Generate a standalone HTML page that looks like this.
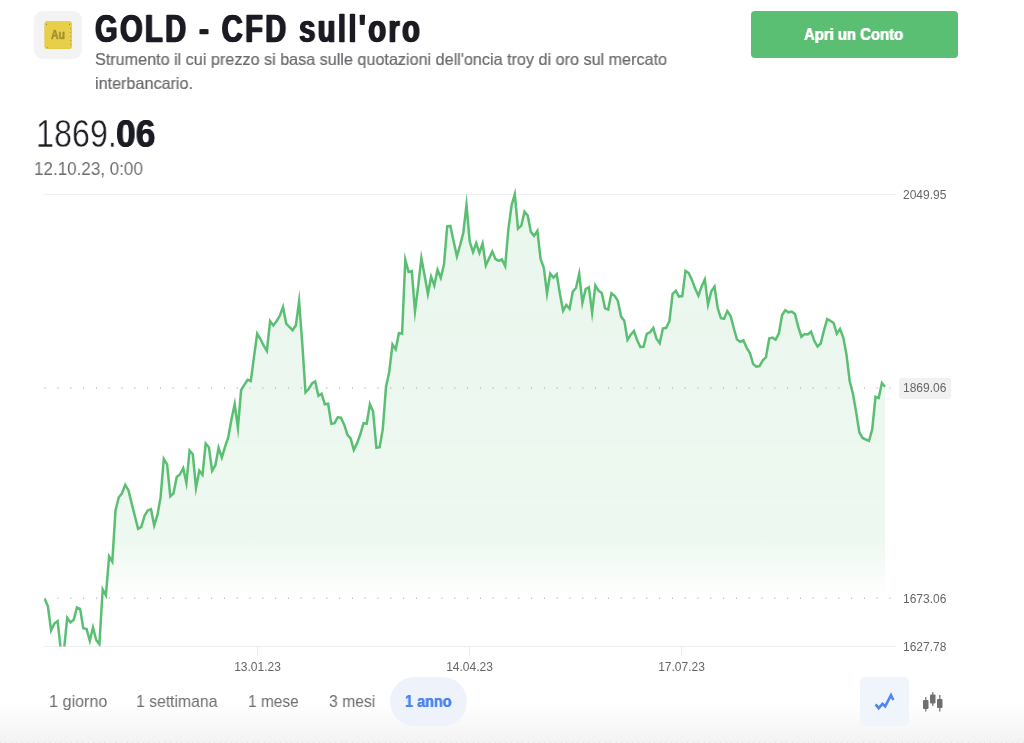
<!DOCTYPE html>
<html lang="it">
<head>
<meta charset="utf-8">
<title>GOLD - CFD sull'oro</title>
<style>
html,body{margin:0;padding:0;background:#fff;}
body{width:1024px;height:743px;position:relative;overflow:hidden;font-family:"Liberation Sans",sans-serif;color:#1c1c24;}
.abs{position:absolute;white-space:nowrap;transform-origin:0 0;line-height:1;will-change:transform;}
#bottomfade{position:absolute;left:0;top:702px;width:1024px;height:41px;background:linear-gradient(to bottom,#ffffff 0%,#f3f3f3 100%);}
#bottomdots{position:absolute;left:0;top:742px;width:1024px;height:1px;background:repeating-linear-gradient(to right,#e4e4e6 0,#e4e4e6 1px,transparent 1px,transparent 5.5px);}
#icon{position:absolute;left:34px;top:11px;width:48px;height:48px;border-radius:9px;background:#f3f3f3;}
#title{left:95.0px;top:9.9px;font-size:38px;font-weight:bold;color:#1b1b23;transform:scaleX(0.765);letter-spacing:3.15px;word-spacing:0px;text-shadow:1.05px 0 0 #1b1b23,-1.05px 0 0 #1b1b23;-webkit-text-stroke:0.4px #1b1b23;}
#desc1{left:94.5px;top:50.7px;font-size:16.5px;color:#6a6a6e;transform:scaleX(0.98);-webkit-text-stroke:0.2px #6a6a6e;}
#desc2{left:94.5px;top:74.8px;font-size:16.5px;color:#6a6a6e;transform:scaleX(0.98);-webkit-text-stroke:0.2px #6a6a6e;}
#btn{position:absolute;left:751px;top:10.5px;width:207px;height:47.5px;border-radius:4px;background:#5bbf73;}
#btntxt{left:53px;top:16.2px;font-size:16px;font-weight:bold;color:#fff;transform:scaleX(0.93);text-shadow:0.35px 0 0 #fff,-0.35px 0 0 #fff;}
#p1{left:35.7px;top:115.2px;font-size:38px;color:#1b1b23;transform:scaleX(0.85);-webkit-text-stroke:0.45px #fff;}
#p2{left:115.7px;top:115.2px;font-size:38px;font-weight:bold;color:#1b1b23;transform:scaleX(0.93);text-shadow:0.5px 0 0 #1b1b23,-0.5px 0 0 #1b1b23;}
#date{left:34.2px;top:159px;font-size:19px;color:#6e6e72;transform:scaleX(0.896);}
.tab{font-size:17px;color:#6e6e72;top:692.6px;}
#t1{left:48.5px;transform:scaleX(0.95);}
#t2{left:136.3px;transform:scaleX(0.926);}
#t3{left:248px;transform:scaleX(0.91);}
#t4{left:328.5px;transform:scaleX(0.925);}
#t5{left:405.3px;transform:scaleX(0.85);color:#4d86f0;font-weight:bold;text-shadow:0.3px 0 0 #4d86f0,-0.3px 0 0 #4d86f0;}
#tabsel{position:absolute;left:390px;top:677px;width:77px;height:49px;border-radius:25px;background:#eef3fb;}
#linebtn{position:absolute;left:860px;top:677px;width:49px;height:49px;border-radius:5px;background:#f0f4fb;}
svg{position:absolute;left:0;top:0;}
.ax{font-family:"Liberation Sans",sans-serif;font-size:12px;fill:#666;}
</style>
</head>
<body>
<div id="bottomfade"></div><div id="bottomdots"></div>
<div id="icon"></div>
<div id="title" class="abs">GOLD - CFD sull'oro</div>
<div id="desc1" class="abs">Strumento il cui prezzo si basa sulle quotazioni dell'oncia troy di oro sul mercato</div>
<div id="desc2" class="abs">interbancario.</div>
<div id="btn"><div id="btntxt" class="abs">Apri un Conto</div></div>
<div id="p1" class="abs">1869.</div><div id="p2" class="abs">06</div>
<div id="date" class="abs">12.10.23, 0:00</div>

<div id="tabsel"></div>
<div id="linebtn"></div>
<div class="abs tab" id="t1">1 giorno</div>
<div class="abs tab" id="t2">1 settimana</div>
<div class="abs tab" id="t3">1 mese</div>
<div class="abs tab" id="t4">3 mesi</div>
<div class="abs tab" id="t5">1 anno</div>

<svg id="chart" width="1024" height="743" viewBox="0 0 1024 743">
<defs>
<linearGradient id="g" x1="0" y1="190" x2="0" y2="600" gradientUnits="userSpaceOnUse">
<stop offset="0" stop-color="#5bbf73" stop-opacity="0.13"/>
<stop offset="0.85" stop-color="#5bbf73" stop-opacity="0.105"/>
<stop offset="1" stop-color="#5bbf73" stop-opacity="0"/>
</linearGradient>
<clipPath id="cp"><rect x="44" y="180" width="842" height="466.5"/></clipPath>
</defs>
<!-- gridlines -->
<line x1="44" y1="194.5" x2="896" y2="194.5" stroke="#efefef" stroke-width="1"/>
<line x1="44" y1="646.5" x2="896" y2="646.5" stroke="#efefef" stroke-width="1"/>
<line x1="44.7" y1="388" x2="891" y2="388" stroke="#b9b9c4" stroke-width="1.6" stroke-dasharray="1 11.8"/>
<line x1="44.7" y1="598.2" x2="891" y2="598.2" stroke="#b9b9c4" stroke-width="1.6" stroke-dasharray="1 11.8"/>
<!-- ticks -->
<line x1="257.5" y1="646" x2="257.5" y2="656" stroke="#ececec"/>
<line x1="469.5" y1="646" x2="469.5" y2="656" stroke="#ececec"/>
<line x1="681.5" y1="646" x2="681.5" y2="656" stroke="#ececec"/>
<g id="series" clip-path="url(#cp)">
<!--SERIES-->
<path d="M44.7 598.6 L47.9 606.4 L51.1 630.4 L54.4 623.6 L57.6 621.1 L60.8 650.0 L64.0 650.0 L67.2 617.9 L70.5 622.4 L73.7 619.7 L76.9 607.5 L80.1 608.8 L83.3 628.3 L86.6 629.1 L89.8 640.8 L93.0 627.5 L96.2 640.0 L99.4 644.2 L102.7 589.5 L105.9 595.3 L109.1 556.4 L112.3 561.7 L115.5 510.5 L118.8 497.2 L122.0 493.3 L125.2 484.9 L128.4 490.2 L131.6 503.1 L134.9 516.2 L138.1 528.8 L141.3 526.9 L144.5 515.9 L147.7 510.5 L151.0 509.2 L154.2 525.4 L157.4 515.2 L160.6 497.2 L163.8 459.0 L167.1 464.4 L170.3 496.4 L173.5 493.3 L176.7 476.9 L179.9 474.5 L183.2 468.2 L186.4 483.0 L189.6 450.5 L192.8 454.2 L196.0 487.9 L199.3 470.8 L202.5 474.9 L205.7 443.5 L208.9 447.2 L212.1 470.7 L215.4 465.2 L218.6 447.9 L221.8 457.6 L225.0 446.9 L228.2 437.5 L231.5 419.2 L234.7 404.1 L237.9 428.0 L241.1 390.2 L244.3 384.8 L247.6 379.8 L250.8 381.0 L254.0 356.9 L257.2 333.7 L260.4 339.0 L263.7 345.7 L266.9 351.0 L270.1 321.0 L273.3 325.4 L276.5 321.2 L279.8 315.8 L283.0 306.9 L286.2 323.6 L289.4 327.0 L292.6 330.2 L295.9 325.2 L299.1 301.2 L302.3 343.9 L305.5 392.3 L308.7 389.0 L312.0 383.5 L315.2 381.5 L318.4 395.8 L321.6 393.7 L324.8 404.3 L328.1 403.7 L331.3 423.8 L334.5 423.1 L337.7 417.3 L340.9 417.7 L344.2 424.7 L347.4 434.8 L350.6 438.4 L353.8 449.9 L357.0 443.4 L360.3 434.3 L363.5 423.1 L366.7 423.8 L369.9 404.2 L373.1 411.6 L376.4 447.7 L379.6 447.2 L382.8 429.1 L386.0 386.9 L389.2 372.0 L392.5 344.5 L395.7 349.3 L398.9 333.2 L402.1 333.6 L405.3 259.8 L408.6 271.9 L411.8 271.1 L415.0 311.3 L418.2 286.2 L421.4 258.1 L424.7 276.0 L427.9 294.1 L431.1 276.8 L434.3 285.4 L437.5 269.7 L440.8 277.8 L444.0 264.3 L447.2 226.4 L450.4 226.0 L453.6 241.2 L456.9 256.4 L460.1 245.1 L463.3 232.7 L466.5 204.9 L469.7 241.6 L473.0 252.1 L476.2 243.2 L479.4 252.9 L482.6 243.6 L485.8 265.5 L489.1 258.4 L492.3 251.5 L495.5 259.2 L498.7 260.9 L501.9 259.4 L505.2 266.1 L508.4 228.8 L511.6 205.3 L514.8 194.2 L518.0 228.6 L521.3 225.6 L524.5 211.7 L527.7 215.5 L530.9 231.9 L534.1 235.9 L537.4 230.9 L540.6 259.0 L543.8 267.7 L547.0 293.5 L550.2 273.5 L553.5 277.7 L556.7 274.3 L559.9 293.8 L563.1 310.8 L566.3 305.0 L569.6 308.8 L572.8 291.6 L576.0 288.0 L579.2 273.8 L582.4 303.0 L585.7 289.0 L588.9 287.3 L592.1 312.7 L595.3 285.5 L598.5 290.6 L601.8 293.1 L605.0 308.3 L608.2 309.5 L611.4 293.3 L614.6 295.8 L617.9 300.9 L621.1 316.6 L624.3 320.8 L627.5 339.8 L630.7 334.8 L634.0 330.9 L637.2 340.3 L640.4 347.2 L643.6 346.6 L646.8 333.8 L650.1 332.2 L653.3 327.9 L656.5 338.8 L659.7 343.2 L662.9 328.6 L666.2 327.8 L669.4 321.2 L672.6 293.8 L675.8 290.8 L679.0 296.6 L682.3 296.1 L685.5 270.9 L688.7 273.0 L691.9 279.9 L695.1 288.5 L698.4 295.7 L701.6 286.4 L704.8 279.4 L708.0 304.7 L711.2 291.6 L714.5 286.6 L717.7 308.0 L720.9 318.2 L724.1 318.8 L727.3 311.1 L730.6 316.1 L733.8 328.3 L737.0 339.6 L740.2 341.9 L743.4 340.3 L746.7 347.8 L749.9 353.0 L753.1 363.9 L756.3 366.6 L759.5 366.1 L762.8 360.3 L766.0 357.2 L769.2 338.5 L772.4 337.5 L775.6 339.7 L778.9 333.3 L782.1 315.0 L785.3 310.2 L788.5 312.3 L791.7 311.5 L795.0 314.0 L798.2 326.7 L801.4 336.8 L804.6 334.0 L807.8 334.5 L811.1 331.7 L814.3 340.8 L817.5 346.5 L820.7 343.5 L823.9 330.6 L827.2 319.1 L830.4 320.8 L833.6 323.0 L836.8 333.7 L840.0 329.0 L843.3 337.5 L846.5 354.7 L849.7 381.2 L852.9 393.5 L856.1 411.9 L859.4 432.5 L862.6 438.0 L865.8 439.5 L869.0 440.8 L872.2 429.4 L875.5 396.8 L878.7 398.1 L881.9 383.0 L885.1 386.8 L885.1 647 L44.7 647 Z" fill="url(#g)" stroke="none"/>
<path d="M44.7 598.6 L47.9 606.4 L51.1 630.4 L54.4 623.6 L57.6 621.1 L60.8 650.0 L64.0 650.0 L67.2 617.9 L70.5 622.4 L73.7 619.7 L76.9 607.5 L80.1 608.8 L83.3 628.3 L86.6 629.1 L89.8 640.8 L93.0 627.5 L96.2 640.0 L99.4 644.2 L102.7 589.5 L105.9 595.3 L109.1 556.4 L112.3 561.7 L115.5 510.5 L118.8 497.2 L122.0 493.3 L125.2 484.9 L128.4 490.2 L131.6 503.1 L134.9 516.2 L138.1 528.8 L141.3 526.9 L144.5 515.9 L147.7 510.5 L151.0 509.2 L154.2 525.4 L157.4 515.2 L160.6 497.2 L163.8 459.0 L167.1 464.4 L170.3 496.4 L173.5 493.3 L176.7 476.9 L179.9 474.5 L183.2 468.2 L186.4 483.0 L189.6 450.5 L192.8 454.2 L196.0 487.9 L199.3 470.8 L202.5 474.9 L205.7 443.5 L208.9 447.2 L212.1 470.7 L215.4 465.2 L218.6 447.9 L221.8 457.6 L225.0 446.9 L228.2 437.5 L231.5 419.2 L234.7 404.1 L237.9 428.0 L241.1 390.2 L244.3 384.8 L247.6 379.8 L250.8 381.0 L254.0 356.9 L257.2 333.7 L260.4 339.0 L263.7 345.7 L266.9 351.0 L270.1 321.0 L273.3 325.4 L276.5 321.2 L279.8 315.8 L283.0 306.9 L286.2 323.6 L289.4 327.0 L292.6 330.2 L295.9 325.2 L299.1 301.2 L302.3 343.9 L305.5 392.3 L308.7 389.0 L312.0 383.5 L315.2 381.5 L318.4 395.8 L321.6 393.7 L324.8 404.3 L328.1 403.7 L331.3 423.8 L334.5 423.1 L337.7 417.3 L340.9 417.7 L344.2 424.7 L347.4 434.8 L350.6 438.4 L353.8 449.9 L357.0 443.4 L360.3 434.3 L363.5 423.1 L366.7 423.8 L369.9 404.2 L373.1 411.6 L376.4 447.7 L379.6 447.2 L382.8 429.1 L386.0 386.9 L389.2 372.0 L392.5 344.5 L395.7 349.3 L398.9 333.2 L402.1 333.6 L405.3 259.8 L408.6 271.9 L411.8 271.1 L415.0 311.3 L418.2 286.2 L421.4 258.1 L424.7 276.0 L427.9 294.1 L431.1 276.8 L434.3 285.4 L437.5 269.7 L440.8 277.8 L444.0 264.3 L447.2 226.4 L450.4 226.0 L453.6 241.2 L456.9 256.4 L460.1 245.1 L463.3 232.7 L466.5 204.9 L469.7 241.6 L473.0 252.1 L476.2 243.2 L479.4 252.9 L482.6 243.6 L485.8 265.5 L489.1 258.4 L492.3 251.5 L495.5 259.2 L498.7 260.9 L501.9 259.4 L505.2 266.1 L508.4 228.8 L511.6 205.3 L514.8 194.2 L518.0 228.6 L521.3 225.6 L524.5 211.7 L527.7 215.5 L530.9 231.9 L534.1 235.9 L537.4 230.9 L540.6 259.0 L543.8 267.7 L547.0 293.5 L550.2 273.5 L553.5 277.7 L556.7 274.3 L559.9 293.8 L563.1 310.8 L566.3 305.0 L569.6 308.8 L572.8 291.6 L576.0 288.0 L579.2 273.8 L582.4 303.0 L585.7 289.0 L588.9 287.3 L592.1 312.7 L595.3 285.5 L598.5 290.6 L601.8 293.1 L605.0 308.3 L608.2 309.5 L611.4 293.3 L614.6 295.8 L617.9 300.9 L621.1 316.6 L624.3 320.8 L627.5 339.8 L630.7 334.8 L634.0 330.9 L637.2 340.3 L640.4 347.2 L643.6 346.6 L646.8 333.8 L650.1 332.2 L653.3 327.9 L656.5 338.8 L659.7 343.2 L662.9 328.6 L666.2 327.8 L669.4 321.2 L672.6 293.8 L675.8 290.8 L679.0 296.6 L682.3 296.1 L685.5 270.9 L688.7 273.0 L691.9 279.9 L695.1 288.5 L698.4 295.7 L701.6 286.4 L704.8 279.4 L708.0 304.7 L711.2 291.6 L714.5 286.6 L717.7 308.0 L720.9 318.2 L724.1 318.8 L727.3 311.1 L730.6 316.1 L733.8 328.3 L737.0 339.6 L740.2 341.9 L743.4 340.3 L746.7 347.8 L749.9 353.0 L753.1 363.9 L756.3 366.6 L759.5 366.1 L762.8 360.3 L766.0 357.2 L769.2 338.5 L772.4 337.5 L775.6 339.7 L778.9 333.3 L782.1 315.0 L785.3 310.2 L788.5 312.3 L791.7 311.5 L795.0 314.0 L798.2 326.7 L801.4 336.8 L804.6 334.0 L807.8 334.5 L811.1 331.7 L814.3 340.8 L817.5 346.5 L820.7 343.5 L823.9 330.6 L827.2 319.1 L830.4 320.8 L833.6 323.0 L836.8 333.7 L840.0 329.0 L843.3 337.5 L846.5 354.7 L849.7 381.2 L852.9 393.5 L856.1 411.9 L859.4 432.5 L862.6 438.0 L865.8 439.5 L869.0 440.8 L872.2 429.4 L875.5 396.8 L878.7 398.1 L881.9 383.0 L885.1 386.8" fill="none" stroke="#5bbf73" stroke-width="2.5" stroke-linejoin="miter" stroke-miterlimit="40"/>
<!--/SERIES-->
</g>
<rect x="899" y="378" width="52" height="21" rx="3" fill="#f1f1f1"/>
<text class="ax" x="903" y="199">2049.95</text>
<text class="ax" x="903" y="392">1869.06</text>
<text class="ax" x="903" y="603">1673.06</text>
<text class="ax" x="903" y="651">1627.78</text>
<text class="ax" x="257.5" y="671" text-anchor="middle">13.01.23</text>
<text class="ax" x="469.5" y="671" text-anchor="middle">14.04.23</text>
<text class="ax" x="681.5" y="671" text-anchor="middle">17.07.23</text>
<!-- gold icon -->
<g id="goldicon">
<rect x="44.5" y="21.2" width="27.4" height="27.7" rx="2.5" fill="#e8cf4a"/>
<rect x="44.9" y="21.6" width="26.6" height="26.9" rx="2.2" fill="none" stroke="#dcc244" stroke-width="0.8" stroke-dasharray="0.9 0.9"/>
<g fill="#9c8a2c"><circle cx="46.5" cy="24.4" r="0.55"/><circle cx="69.5" cy="24.4" r="0.55"/><circle cx="47.4" cy="47.3" r="0.55"/>
<circle cx="70.5" cy="28.4" r="0.5"/><circle cx="70.5" cy="32.4" r="0.5"/><circle cx="70.5" cy="36.4" r="0.5"/><circle cx="70.5" cy="40.4" r="0.5"/><circle cx="70.5" cy="44.4" r="0.5"/></g>
<text x="57.9" y="38.9" text-anchor="middle" textLength="14" lengthAdjust="spacingAndGlyphs" style="font-family:'Liberation Sans',sans-serif;font-size:12.3px;font-weight:bold;fill:#a39030;stroke:#a39030;stroke-width:0.5px">Au</text>
</g>
<!-- icons -->
<path id="ic1" d="M875.6 704.4 L878.7 708.2 L882.5 703.9 L885.2 706.3 L891 695.2 L893.3 700" fill="none" stroke="#4d86f0" stroke-width="2.6" stroke-linejoin="miter" stroke-linecap="butt"/>
<g id="ic2" fill="#6f6f6f">
<rect x="923" y="700" width="5.5" height="9" rx="1"/><rect x="925.2" y="697" width="1.2" height="14.5"/>
<rect x="930" y="694.5" width="5.5" height="9" rx="1"/><rect x="932.2" y="692" width="1.2" height="14"/>
<rect x="937" y="699" width="5.5" height="9" rx="1"/><rect x="939.2" y="695" width="1.2" height="16.5"/>
</g>
</svg>
</body>
</html>
